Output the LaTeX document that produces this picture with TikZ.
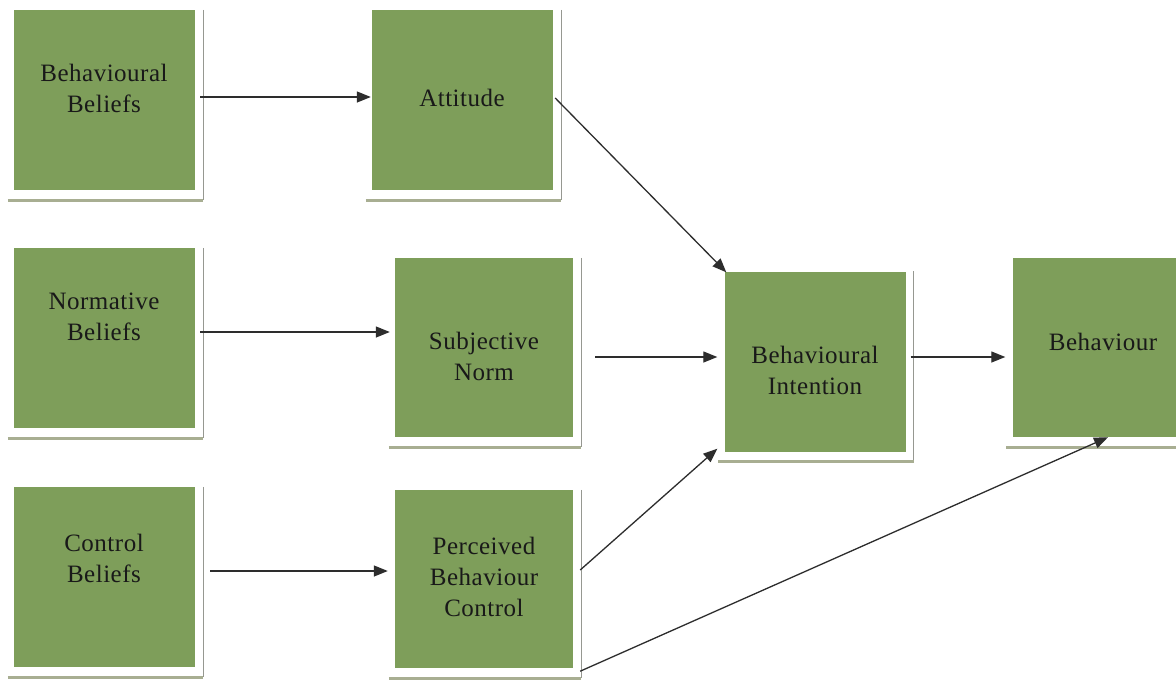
\documentclass[tikz,border=0pt]{standalone}
\usepackage{fontspec}
\setmainfont{Liberation Serif}
\newfontfamily\boxserif[LetterSpace=2]{Liberation Serif}
\usetikzlibrary{arrows.meta,calc}
\definecolor{boxgreen}{RGB}{126,158,90}
\definecolor{shadowline}{RGB}{168,174,146}
\definecolor{edgeline}{RGB}{150,152,145}
\definecolor{arrowgray}{RGB}{45,45,45}
\begin{document}
\begin{tikzpicture}[x=1pt,y=-1pt,
  box/.style={fill=boxgreen, draw=none, inner sep=0pt, minimum width=181pt, minimum height=180pt},
  lbl/.style={align=center, text=black!90, font=\boxserif\fontsize{25}{31}\selectfont, inner sep=0pt},
  conn/.style={draw=arrowgray, line width=1.3pt, -{Triangle[length=14pt,width=11pt]}},
  rline/.style={draw=edgeline, line width=1pt},
  bline/.style={draw=shadowline, line width=3pt}]
\clip (0,0) rectangle (1176,681);
\useasboundingbox (0,0) rectangle (1176,681);
\fill[white] (0,0) rectangle (1176,681);

% boxes
\node[box] (bb)  at (104.5,100) {};
\node[box] (att) at (462.5,100) {};
\node[box] (nb)  at (104.5,338) {};
\node[box, minimum width=178pt, minimum height=179pt] (sn)  at (484,347.5) {};
\node[box] (bi)  at (815,361.5) {};
\node[box, minimum height=179pt] (beh) at (1103,347.5) {};
\node[box] (cb)  at (104.5,577) {};
\node[box, minimum width=178pt, minimum height=178pt] (pbc) at (484,579) {};

% frame lines (right edge and bottom shadow)
\foreach \n in {bb,att,nb,sn,bi,beh,cb,pbc}{
  \draw[rline] ($(\n.north east)+(8,0)$) -- ($(\n.south east)+(8,10)$);
  \draw[bline] ($(\n.south west)+(-6,10)$) -- ($(\n.south east)+(8,10)$);
}

% labels
\node[lbl] (bbt)  at (104,88)  {Behavioural\\Beliefs};
\node[lbl] (attt) at (462,98)  {Attitude};
\node[lbl] (nbt)  at (104,317) {Normative\\Beliefs};
\node[lbl] (snt)  at (484,356) {Subjective\\Norm};
\node[lbl] (bit)  at (815,370) {Behavioural\\Intention};
\node[lbl] (beht) at (1103,342) {Behaviour};
\node[lbl] (cbt)  at (104,558) {Control\\Beliefs};
\node[lbl] (pbct) at (484,577) {Perceived\\Behaviour\\Control};

% connectors
\draw[conn] ($(bb.east)+(5,-3)$) -- ($(att.west)+(-1,-3)$);
\draw[conn] ($(att.east)+(2,-2)$) -- ($(bi.north west)+(2,1)$);
\draw[conn] ($(nb.east)+(5,-6)$) -- ($(sn.west)+(-5,-15.5)$);
\draw[conn] ($(sn.east)+(22,9.5)$) -- ($(bi.west)+(-7,-4.5)$);
\draw[conn] ($(bi.east)+(5,-4.5)$) -- ($(beh.west)+(-7,9.5)$);
\draw[conn] ($(cb.east)+(15,-6)$) -- ($(pbc.west)+(-7,-8)$);
\draw[conn] ($(pbc.east)+(7,-9)$) -- ($(bi.south west)+(-7,-3)$);
\draw[conn] ($(pbc.south east)+(7,3)$) -- ($(beh.south)+(5,0)$);
\end{tikzpicture}
\end{document}
